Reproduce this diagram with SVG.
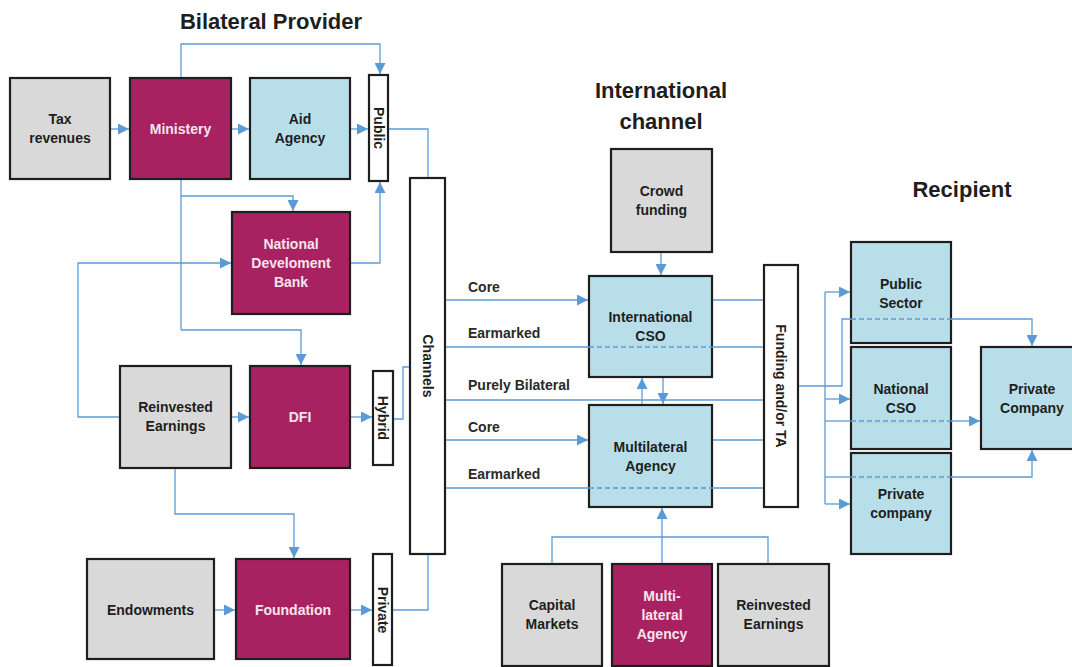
<svg xmlns="http://www.w3.org/2000/svg" width="1072" height="667" viewBox="0 0 1072 667">
<style>
.box{stroke:#1e1e1e;stroke-width:2.2}
.g{fill:#d9d9d9}
.m{fill:#a82262}
.b{fill:#b8dfe9}
.w{fill:#ffffff}
.t{font-family:"Liberation Sans",Arial,sans-serif;font-size:14px;font-weight:bold;text-anchor:middle;fill:#1e1e1e}
.tw{fill:#f7e4ee}
.lbl{font-family:"Liberation Sans",Arial,sans-serif;font-size:14px;font-weight:bold;fill:#2a2a2a}
.h{font-family:"Liberation Sans",Arial,sans-serif;font-size:22px;font-weight:bold;text-anchor:middle;fill:#1e1e1e}
.c{fill:none;stroke:#5b9bd5;stroke-width:1.3}
.d{fill:none;stroke:#5b9bd5;stroke-width:1.3;stroke-dasharray:5,3}
.a{marker-end:url(#arr)}
</style>
<defs>
<marker id="arr" viewBox="0 0 10 10" refX="10" refY="5" markerWidth="11" markerHeight="11" markerUnits="userSpaceOnUse" orient="auto">
<path d="M0,0 L10,5 L0,10 z" fill="#5b9bd5"/>
</marker>
</defs>
<rect width="1072" height="667" fill="#ffffff"/>
<text class="h" x="271" y="29">Bilateral Provider</text>
<text class="h" x="661" y="98">International</text>
<text class="h" x="661" y="129">channel</text>
<text class="h" x="962" y="197">Recipient</text>

<g id="tax"><rect class="box g" x="10" y="78" width="100" height="101"/><text class="t" x="60" y="124">Tax</text><text class="t" x="60" y="143">revenues</text></g>
<g id="ministery"><rect class="box m" x="130" y="78" width="101" height="101"/><text class="t tw" x="180.5" y="134">Ministery</text></g>
<g id="aid"><rect class="box b" x="250" y="78" width="100" height="101"/><text class="t" x="300" y="124">Aid</text><text class="t" x="300" y="143">Agency</text></g>
<g id="public"><rect class="box w" x="369" y="75" width="19" height="106"/><text class="t" transform="translate(378.5,128) rotate(90)" x="0" y="5">Public</text></g>
<g id="ndb"><rect class="box m" x="232" y="212" width="118" height="102"/><text class="t tw" x="291" y="249">National</text><text class="t tw" x="291" y="268">Develoment</text><text class="t tw" x="291" y="287">Bank</text></g>
<g id="reinv1"><rect class="box g" x="120" y="366" width="111" height="102"/><text class="t" x="175.5" y="412">Reinvested</text><text class="t" x="175.5" y="431">Earnings</text></g>
<g id="dfi"><rect class="box m" x="250" y="366" width="100" height="102"/><text class="t tw" x="300" y="422">DFI</text></g>
<g id="hybrid"><rect class="box w" x="373" y="371" width="20" height="94"/><text class="t" transform="translate(383,418) rotate(90)" x="0" y="5">Hybrid</text></g>
<g id="endow"><rect class="box g" x="87" y="559" width="127" height="100"/><text class="t" x="150.5" y="615">Endowments</text></g>
<g id="foundation"><rect class="box m" x="236" y="559" width="114" height="100"/><text class="t tw" x="293" y="615">Foundation</text></g>
<g id="private"><rect class="box w" x="373" y="554" width="19" height="111"/><text class="t" transform="translate(382.5,610) rotate(90)" x="0" y="5">Private</text></g>
<g id="channels"><rect class="box w" x="410" y="178" width="35" height="376"/><text class="t" transform="translate(427.5,366) rotate(90)" x="0" y="5">Channels</text></g>
<g id="crowd"><rect class="box g" x="611" y="149" width="101" height="103"/><text class="t" x="661.5" y="196">Crowd</text><text class="t" x="661.5" y="215">funding</text></g>
<g id="icso"><rect class="box b" x="589" y="276" width="123" height="101"/><text class="t" x="650.5" y="322">International</text><text class="t" x="650.5" y="341">CSO</text></g>
<g id="ma"><rect class="box b" x="589" y="405" width="123" height="102"/><text class="t" x="650.5" y="452">Multilateral</text><text class="t" x="650.5" y="471">Agency</text></g>
<g id="funding"><rect class="box w" x="764" y="265" width="34" height="242"/><text class="t" transform="translate(781,386) rotate(90)" x="0" y="5">Funding and/or TA</text></g>
<g id="capital"><rect class="box g" x="502" y="564" width="100" height="102"/><text class="t" x="552" y="610">Capital</text><text class="t" x="552" y="629">Markets</text></g>
<g id="multi"><rect class="box m" x="612" y="564" width="100" height="102"/><text class="t tw" x="662" y="601">Multi-</text><text class="t tw" x="662" y="620">lateral</text><text class="t tw" x="662" y="639">Agency</text></g>
<g id="reinv2"><rect class="box g" x="718" y="564" width="111" height="102"/><text class="t" x="773.5" y="610">Reinvested</text><text class="t" x="773.5" y="629">Earnings</text></g>
<g id="pubsec"><rect class="box b" x="851" y="242" width="100" height="101"/><text class="t" x="901" y="289">Public</text><text class="t" x="901" y="308">Sector</text></g>
<g id="ncso"><rect class="box b" x="851" y="347" width="100" height="102"/><text class="t" x="901" y="394">National</text><text class="t" x="901" y="413">CSO</text></g>
<g id="pcomp"><rect class="box b" x="851" y="453" width="100" height="101"/><text class="t" x="901" y="499">Private</text><text class="t" x="901" y="518">company</text></g>
<g id="pcompany"><rect class="box b" x="981" y="347" width="102" height="102"/><text class="t" x="1032" y="394">Private</text><text class="t" x="1032" y="413">Company</text></g>

<g id="labels">
<text class="lbl" x="468" y="292">Core</text>
<text class="lbl" x="468" y="338">Earmarked</text>
<text class="lbl" x="468" y="390">Purely Bilateral</text>
<text class="lbl" x="468" y="432">Core</text>
<text class="lbl" x="468" y="479">Earmarked</text>
</g>

<g id="connectors">
<path class="c a" d="M111,129 H129"/>
<path class="c a" d="M232,129 H249"/>
<path class="c a" d="M351,129 H368"/>
<path class="c a" d="M181,77 V44 H380 V74"/>
<path class="c" d="M389,129 H428 V177"/>
<path class="c" d="M181,180 V330"/>
<path class="c a" d="M181,196 H293 V211"/>
<path class="c a" d="M181,330 H301 V365"/>
<path class="c a" d="M351,263 H380 V182"/>
<path class="c a" d="M119,417 H78 V263 H231"/>
<path class="c a" d="M232,417 H249"/>
<path class="c a" d="M351,417 H372"/>
<path class="c" d="M394,419 H403 V367 H409"/>
<path class="c a" d="M175,469 V514 H294 V558"/>
<path class="c a" d="M215,610 H235"/>
<path class="c a" d="M351,610 H372"/>
<path class="c" d="M393,610 H428 V555"/>
<path class="c a" d="M661,253 V275"/>
<path class="c a" d="M446,300 H588"/>
<path class="c" d="M446,347 H589"/>
<path class="d" d="M589,347 H712"/>
<path class="c" d="M712,347 H763"/>
<path class="c" d="M446,400 H763"/>
<path class="c a" d="M446,440 H588"/>
<path class="c" d="M446,488 H589"/>
<path class="d" d="M589,488 H712"/>
<path class="c" d="M712,488 H763"/>
<path class="c" d="M713,300 H763"/>
<path class="c" d="M713,440 H763"/>
<path class="c a" d="M642,404 V378"/>
<path class="c a" d="M663,378 V404"/>
<path class="c" d="M552,563 V537 H768 V563"/>
<path class="c a" d="M662,563 V508"/>
<path class="c" d="M799,386 H842 V319 H851"/>
<path class="d" d="M851,319 H951"/>
<path class="c a" d="M951,319 H1032 V346"/>
<path class="c" d="M825,292 V504"/>
<path class="c a" d="M825,292 H850"/>
<path class="c a" d="M825,399 H850"/>
<path class="c a" d="M825,504 H850"/>
<path class="c" d="M825,421 H851"/>
<path class="d" d="M851,421 H951"/>
<path class="c a" d="M951,421 H980"/>
<path class="c" d="M825,477 H851"/>
<path class="d" d="M851,477 H951"/>
<path class="c a" d="M951,477 H1032 V450"/>
</g>
</svg>
